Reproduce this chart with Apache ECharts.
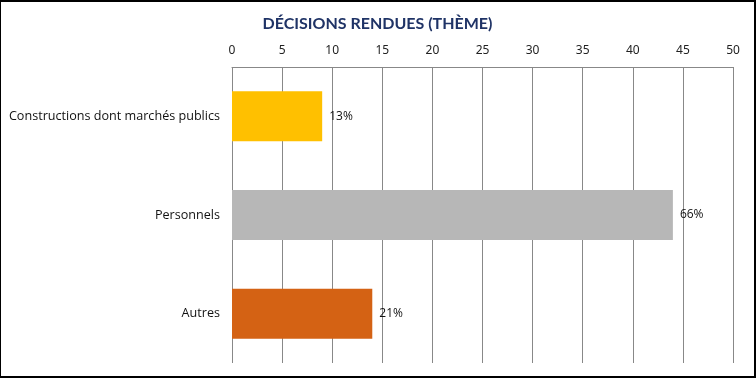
<!DOCTYPE html>
<html>
<head>
<meta charset="utf-8">
<script src="https://cdn.jsdelivr.net/npm/echarts@6/dist/echarts.min.js"></script>
<style>
  html, body { margin: 0; padding: 0; background: #fff; }
  #main {
    width: 756px; height: 378px; box-sizing: border-box;
    border-top: 2px solid #000; border-right: 2px solid #000;
    border-bottom: 2px solid #000; border-left: 1px solid #000;
  }
</style>
</head>
<body>
<div id="main"></div>
<script>
// données du graphique
var categories = ['Constructions dont marchés publics', 'Personnels', 'Autres'];
var values = [9, 44, 14];
var barColors = ['#FFC000', '#B7B7B7', '#D46214'];
var ticks = [0, 5, 10, 15, 20, 25, 30, 35, 40, 45, 50];

(function () {
    var myChart = echarts.init(document.getElementById('main'));
    var total = values.reduce(function (a, b) { return a + b; }, 0);

    var option = {
        animation: false,
        title: {
            text: 'DÉCISIONS RENDUES (THÈME)',
            left: 'center',
            top: 9,
            textStyle: {
                color: '#1F3366',
                fontFamily: 'Lato',
                fontWeight: 'bold',
                fontSize: 16
            }
        },
        grid: {
            left: 231,
            right: 21,
            top: 65,
            bottom: 13
        },
        xAxis: {
            type: 'value',
            position: 'top',
            min: ticks[0],
            max: ticks[ticks.length - 1],
            interval: 5,
            axisLine: { show: true, lineStyle: { color: '#888', width: 1 } },
            axisTick: { show: false },
            axisLabel: {
                color: '#222',
                fontFamily: 'Noto Sans',
                fontSize: 12,
                margin: 10
            },
            splitLine: { show: true, lineStyle: { color: '#888', width: 1 } }
        },
        yAxis: {
            type: 'category',
            inverse: true,
            data: categories,
            axisLine: { show: false },
            axisTick: { show: false },
            axisLabel: {
                color: '#111',
                fontFamily: 'Open Sans',
                fontSize: 12.6,
                margin: 12
            }
        },
        series: [
            {
                type: 'bar',
                barWidth: 50,
                data: values.map(function (v, i) {
                    return { value: v, itemStyle: { color: barColors[i] } };
                }),
                label: {
                    show: true,
                    position: 'right',
                    distance: 7,
                    color: '#111',
                    fontFamily: 'Open Sans',
                    fontSize: 12,
                    formatter: function (p) {
                        return Math.round(p.value / total * 100) + '%';
                    }
                }
            }
        ]
    };
    myChart.setOption(option);
    window.addEventListener('resize', function () {
        myChart.resize();
    });
})();
</script>
</body>
</html>
